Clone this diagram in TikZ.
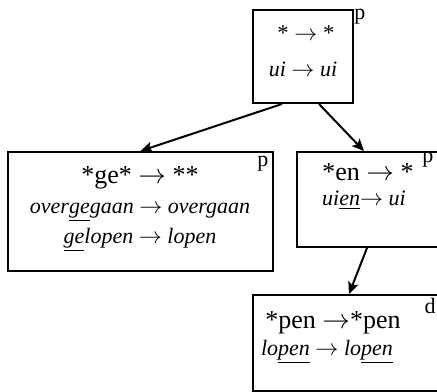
\documentclass[tikz,border=0pt]{standalone}
\usepackage{fontspec}
\setmainfont{Liberation Serif}
\usetikzlibrary{fit}
\usetikzlibrary{positioning}
\usetikzlibrary{arrows.meta}

\newcommand{\uln}[1]{\underline{#1}}
\newcommand{\ar}{\ensuremath{\rightarrow}}

\begin{document}
\begin{tikzpicture}[
            x = 0.75pt, y = -0.75pt, % reference pixels
            > = {Stealth[length=9pt, width=8pt, inset=2pt]}, % arrow head style
            shorten > = 0pt,
            line width = 1.5pt % line style
        ]

        \tikzstyle{box}=[
            draw,
            inner sep = 0pt
        ]
        \tikzstyle{big}=[font=\fontsize{19.5}{22}\selectfont]
        \tikzstyle{ital}=[font=\fontsize{16.5}{19}\selectfont\itshape]
        \tikzstyle{tag}=[font=\fontsize{16.5}{19}\selectfont, inner sep=0pt]

        \useasboundingbox (0,0) rectangle (437,392);

	% rule boxes
        \node[box, fit={(253,10) (353,103)}] (top) {};
        \node[box, fit={(8,152) (273,271)}] (left) {};
        \node[box, fit={(297,152) (452,247)}] (mid) {};
        \node[box, fit={(253,295) (452,391)}] (bot) {};

	% top rule
        \node[tag] (topP) at (360,17) {p};
        \node[tag, font=\fontsize{17}{19}\selectfont] (topA) at (306,33) {* \ar\ *};
        \node[ital] (topB) at (303,69) {ui \ar\ ui};

	% ge rule
        \node[tag] (leftP) at (263,164) {p};
        \node[big] (leftA) at (140,178) {*ge* \ar\ **};
        \node[ital] (leftB) at (140,212) {over\uln{ge}gaan \ar\ overgaan};
        \node[ital] (leftC) at (140,240) {\uln{ge}lopen \ar\ lopen};

	% en rule
        \node[tag] (midP) at (428,160) {p};
        \node[big] (midA) at (368,172) {*en \ar\ *};
        \node[ital] (midB) at (364,200) {ui\uln{en}\ar\ ui};

	% pen rule
        \node[tag] (botP) at (430,306) {d};
        \node[big] (botA) at (333,323) {*pen \ar*pen};
        \node[ital] (botB) at (327,352) {lo\uln{pen} \ar\ lo\uln{pen}};

	% links
        \path[->] ([xshift=22.5pt]top.south west) edge node {} (left.north);
        \path[->] ([xshift=50.25pt]top.south west) edge node {} ([xshift=51pt]mid.north west);
        \path[->] ([xshift=53.25pt]mid.south west) edge node {} ([xshift=72.75pt]bot.north west);

\end{tikzpicture}
\end{document}
